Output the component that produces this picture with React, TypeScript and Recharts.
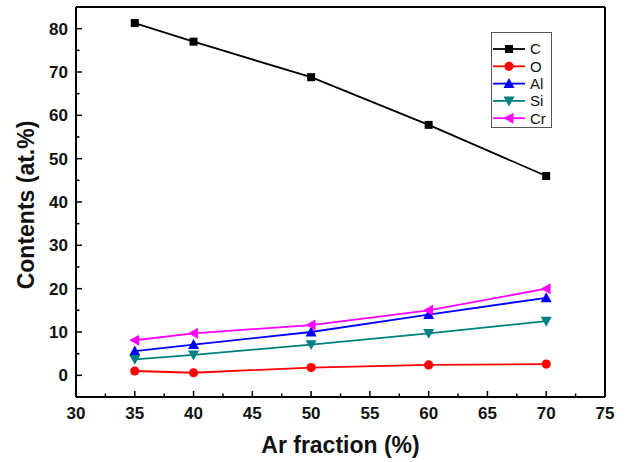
import { LineChart, Line, XAxis, YAxis, ReferenceLine } from "recharts";

const arFraction = [35, 40, 50, 60, 70];
const carbon = [81.3, 77.0, 68.8, 57.8, 46.0];
const oxygen = [1.0, 0.6, 1.8, 2.4, 2.6];
const aluminium = [5.6, 7.1, 10.0, 14.0, 17.9];
const silicon = [3.7, 4.7, 7.1, 9.7, 12.5];
const chromium = [8.1, 9.7, 11.6, 15.0, 20.0];

const xTicks = [30, 32.5, 35, 37.5, 40, 42.5, 45, 47.5, 50, 52.5, 55, 57.5, 60, 62.5, 65, 67.5, 70, 72.5, 75];
const yTicks = [0, 5, 10, 15, 20, 25, 30, 35, 40, 45, 50, 55, 60, 65, 70, 75, 80];

const data = arFraction.map((x, i) => ({
  x,
  C: carbon[i],
  O: oxygen[i],
  Al: aluminium[i],
  Si: silicon[i],
  Cr: chromium[i],
}));

const series = [
  { key: "C", color: "#000000", shape: "square" },
  { key: "O", color: "#ff0000", shape: "circle" },
  { key: "Al", color: "#0000ff", shape: "up" },
  { key: "Si", color: "#008080", shape: "down" },
  { key: "Cr", color: "#ff00ff", shape: "left" },
];

const FONT = "'Liberation Sans', Arial, sans-serif";

function Marker({ cx, cy, shape, color }: { cx: number; cy: number; shape: string; color: string }) {
  if (shape === "square") return <rect x={cx - 4} y={cy - 4} width={8} height={8} fill={color} />;
  if (shape === "circle") return <circle cx={cx} cy={cy} r={4.6} fill={color} />;
  const s = 5.5;
  let pts = "";
  if (shape === "up") pts = `${cx},${cy - s} ${cx + s},${cy + s * 0.8} ${cx - s},${cy + s * 0.8}`;
  if (shape === "down") pts = `${cx},${cy + s} ${cx + s},${cy - s * 0.8} ${cx - s},${cy - s * 0.8}`;
  if (shape === "left") pts = `${cx - s},${cy} ${cx + s * 0.8},${cy - s} ${cx + s * 0.8},${cy + s}`;
  return <polygon points={pts} fill={color} />;
}

const makeDot = (shape: string, color: string) => (props: any) => {
  const { cx, cy, index } = props;
  if (cx == null || cy == null) return <g key={index} />;
  return <Marker key={index} cx={cx} cy={cy} shape={shape} color={color} />;
};

const XTick = ({ x, y, payload }: any) => {
  const major = payload.value % 5 === 0;
  return (
    <g>
      <line x1={x} x2={x} y1={y} y2={y - (major ? 6 : 3.5)} stroke="#000" strokeWidth={1.5} />
      {major && (
        <text x={x} y={y + 22} textAnchor="middle" fontSize={17} fontWeight="bold" fontFamily={FONT} fill="#111">
          {payload.value}
        </text>
      )}
    </g>
  );
};

const YTick = ({ x, y, payload }: any) => {
  const major = payload.value % 10 === 0;
  return (
    <g>
      <line x1={x} x2={x + (major ? 6 : 3.5)} y1={y} y2={y} stroke="#000" strokeWidth={1.5} />
      {major && (
        <text x={x - 8} y={y} dy="0.36em" textAnchor="end" fontSize={17} fontWeight="bold" fontFamily={FONT} fill="#111">
          {payload.value}
        </text>
      )}
    </g>
  );
};

const LegendBox = () => (
  <div
    style={{
      position: "absolute",
      left: 491,
      top: 32,
      width: 61,
      height: 96,
      border: "1px solid #555",
      boxSizing: "border-box",
      background: "#fff",
    }}
  >
    <svg width={59} height={94} style={{ display: "block" }}>
      {series.map((s, i) => {
        const cy = 16 + i * 17.3;
        return (
          <g key={s.key}>
            <line x1={1} x2={33} y1={cy} y2={cy} stroke={s.color} strokeWidth={1.8} />
            <Marker cx={17} cy={cy} shape={s.shape} color={s.color} />
            <text x={38} y={cy} dy="0.36em" fontSize={15} fontFamily={FONT} fill="#111">
              {s.key}
            </text>
          </g>
        );
      })}
    </svg>
  </div>
);

export default function App() {
  return (
    <div style={{ position: "absolute", left: 0, top: 0, width: 627, height: 462, background: "#fff" }}>
      <LineChart width={627} height={462} data={data} margin={{ top: 7, right: 22, bottom: 0, left: 0 }}>
        <XAxis
          dataKey="x"
          type="number"
          domain={[30, 75]}
          ticks={xTicks}
          interval={0}
          height={65}
          tickSize={0}
          tickMargin={0}
          tickLine={false}
          tick={XTick}
          axisLine={{ stroke: "#000", strokeWidth: 2 }}
          label={{
            content: ({ viewBox }: any) => (
              <text
                x={viewBox.x + viewBox.width / 2}
                y={viewBox.y + 56}
                textAnchor="middle"
                fontSize={23}
                fontWeight="bold"
                fontFamily={FONT}
                fill="#111"
              >
                Ar fraction (%)
              </text>
            ),
          }}
        />
        <YAxis
          type="number"
          domain={[-5, 85]}
          ticks={yTicks}
          interval={0}
          width={76}
          tickSize={0}
          tickMargin={0}
          tickLine={false}
          tick={YTick}
          axisLine={{ stroke: "#000", strokeWidth: 2 }}
          label={{
            content: ({ viewBox }: any) => {
              const cx = 26;
              const cy = viewBox.y + viewBox.height / 2 + 3;
              return (
                <text
                  x={cx}
                  y={cy}
                  transform={`rotate(-90 ${cx} ${cy})`}
                  textAnchor="middle"
                  dy="0.36em"
                  fontSize={23}
                  fontWeight="bold"
                  fontFamily={FONT}
                  fill="#111"
                >
                  Contents (at.%)
                </text>
              );
            },
          }}
        />
        <ReferenceLine x={75} stroke="#000" strokeWidth={2} />
        <ReferenceLine y={85} stroke="#000" strokeWidth={2} />
        {series.map((s) => (
          <Line
            key={s.key}
            dataKey={s.key}
            name={s.key}
            stroke={s.color}
            strokeWidth={1.8}
            dot={makeDot(s.shape, s.color)}
            activeDot={false}
            isAnimationActive={false}
          />
        ))}
      </LineChart>
      <LegendBox />
    </div>
  );
}
